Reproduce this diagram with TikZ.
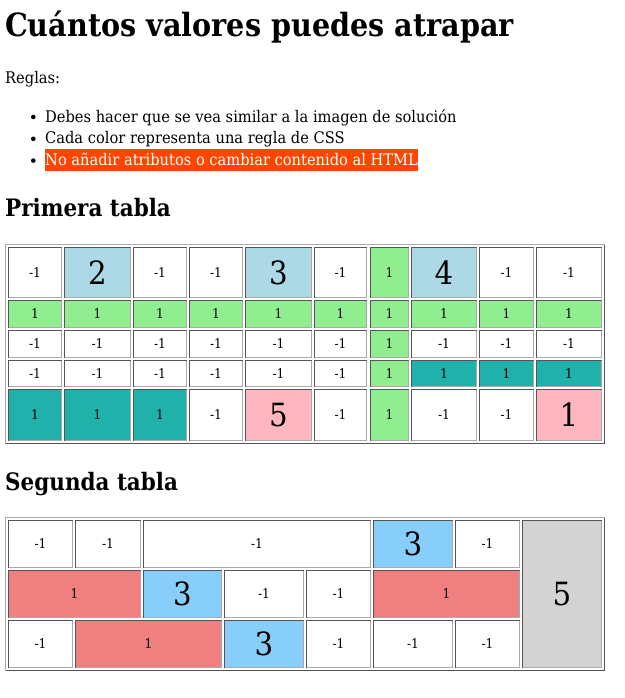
\documentclass[tikz,border=0pt]{standalone}
\usepackage{fontspec}
\setmainfont{DejaVu Serif}[FakeStretch=0.915]
\newfontfamily\negrita{DejaVu Serif}[FakeStretch=0.895]

\definecolor{celeste}{HTML}{ADD8E6}
\definecolor{verde}{HTML}{90EE90}
\definecolor{turquesa}{HTML}{20B2AA}
\definecolor{rosa}{HTML}{FFB6C1}
\definecolor{coral}{HTML}{F08080}
\definecolor{cielo}{HTML}{87CEFA}
\definecolor{gris}{HTML}{D3D3D3}
\definecolor{naranja}{HTML}{FF4500}
\definecolor{bordeoscuro}{HTML}{555555}
\definecolor{bordeclaro}{HTML}{AAAAAA}

\newcommand{\chica}{\fontsize{13.33}{16}\selectfont}
\newcommand{\grande}{\fontsize{32}{38}\selectfont}
\newcommand{\cuerpo}{\fontsize{16}{20}\selectfont}
\newcommand{\titulo}{\negrita\fontsize{32}{38}\selectfont\bfseries}
\newcommand{\subtitulo}{\negrita\fontsize{24}{28}\selectfont\bfseries}

\tikzset{
  celda/.style={inner sep=0pt, outer sep=0pt, anchor=north west, font=\chica},
  grande/.style={font=\grande},
  texto/.style={inner sep=0pt, anchor=base west, font=\cuerpo},
  oscuro/.style={draw=bordeoscuro, line width=1pt},
  claro/.style={draw=bordeclaro, line width=1pt}
}

% celda: nombre, x1, y1, x2, y2, relleno, estilo, texto
\newcommand{\celda}[8]{%
  \node[celda, #7, fill=#6, minimum width={(#4-#2)*1pt}, minimum height={(#5-#3)*1pt}] (#1) at (#2,#3) {#8};
  \draw[oscuro] ([shift={(0.5,-0.5)}]#1.south west) |- ([shift={(-0.5,0.5)}]#1.north east);
  \draw[claro] ([shift={(-0.5,0.5)}]#1.north east) |- ([shift={(0.5,-0.5)}]#1.south west);
}
% marco de la tabla: nombre, x1, y1, x2, y2
\newcommand{\marco}[5]{%
  \node[celda, minimum width={(#4-#2)*1pt}, minimum height={(#5-#3)*1pt}] (#1) at (#2,#3) {};
  \draw[claro] ([shift={(0.5,-0.5)}]#1.south west) |- ([shift={(-0.5,0.5)}]#1.north east);
  \draw[oscuro] ([shift={(-0.5,0.5)}]#1.north east) |- ([shift={(0.5,-0.5)}]#1.south west);
}

\begin{document}
\begin{tikzpicture}[x=1pt, y=-1pt]
  \useasboundingbox[fill=white] (0,0) rectangle (624,698);

  % encabezado
  \node[texto, font=\titulo] (titulo) at (5,37) {Cuántos valores puedes atrapar};
  \node[texto] (reglas) at (5,84) {Reglas:};
  \node[texto] (regla1) at (45,122) {Debes hacer que se vea similar a la imagen de solución};
  \node[texto] (regla2) at (45,143.8) {Cada color representa una regla de CSS};
  \node[texto, fill=naranja, text=white, text height=16.4pt, text depth=5pt] (regla3) at (45,165.6) {No añadir atributos o cambiar contenido al HTML};
  \fill ([xshift=-11.7pt, yshift=5pt]regla1.base west) circle (2.3);
  \fill ([xshift=-11.7pt, yshift=5pt]regla2.base west) circle (2.3);
  \fill ([xshift=-11.7pt, yshift=5pt]regla3.base west) circle (2.3);

  % primera tabla
  \node[texto, font=\subtitulo] (primera) at (5,216) {Primera tabla};
  \marco{tabla1}{5}{244}{605}{444}

  \celda{p1-1}{8}{247}{62}{298}{white}{}{-1}
  \celda{p1-2}{64}{247}{131}{298}{celeste}{grande}{2}
  \celda{p1-3}{133}{247}{187}{298}{white}{}{-1}
  \celda{p1-4}{189}{247}{243}{298}{white}{}{-1}
  \celda{p1-5}{245}{247}{312}{298}{celeste}{grande}{3}
  \celda{p1-6}{314}{247}{367}{298}{white}{}{-1}
  \celda{p1-7}{370}{247}{409}{298}{verde}{}{1}
  \celda{p1-8}{411}{247}{477}{298}{celeste}{grande}{4}
  \celda{p1-9}{479}{247}{534}{298}{white}{}{-1}
  \celda{p1-10}{536}{247}{602}{298}{white}{}{-1}

  \celda{p2-1}{8}{300}{62}{328}{verde}{}{1}
  \celda{p2-2}{64}{300}{131}{328}{verde}{}{1}
  \celda{p2-3}{133}{300}{187}{328}{verde}{}{1}
  \celda{p2-4}{189}{300}{243}{328}{verde}{}{1}
  \celda{p2-5}{245}{300}{312}{328}{verde}{}{1}
  \celda{p2-6}{314}{300}{367}{328}{verde}{}{1}
  \celda{p2-7}{370}{300}{409}{328}{verde}{}{1}
  \celda{p2-8}{411}{300}{477}{328}{verde}{}{1}
  \celda{p2-9}{479}{300}{534}{328}{verde}{}{1}
  \celda{p2-10}{536}{300}{602}{328}{verde}{}{1}

  \celda{p3-1}{8}{330}{62}{358}{white}{}{-1}
  \celda{p3-2}{64}{330}{131}{358}{white}{}{-1}
  \celda{p3-3}{133}{330}{187}{358}{white}{}{-1}
  \celda{p3-4}{189}{330}{243}{358}{white}{}{-1}
  \celda{p3-5}{245}{330}{312}{358}{white}{}{-1}
  \celda{p3-6}{314}{330}{367}{358}{white}{}{-1}
  \celda{p3-7}{370}{330}{409}{358}{verde}{}{1}
  \celda{p3-8}{411}{330}{477}{358}{white}{}{-1}
  \celda{p3-9}{479}{330}{534}{358}{white}{}{-1}
  \celda{p3-10}{536}{330}{602}{358}{white}{}{-1}

  \celda{p4-1}{8}{360}{62}{387}{white}{}{-1}
  \celda{p4-2}{64}{360}{131}{387}{white}{}{-1}
  \celda{p4-3}{133}{360}{187}{387}{white}{}{-1}
  \celda{p4-4}{189}{360}{243}{387}{white}{}{-1}
  \celda{p4-5}{245}{360}{312}{387}{white}{}{-1}
  \celda{p4-6}{314}{360}{367}{387}{white}{}{-1}
  \celda{p4-7}{370}{360}{409}{387}{verde}{}{1}
  \celda{p4-8}{411}{360}{477}{387}{turquesa}{}{1}
  \celda{p4-9}{479}{360}{534}{387}{turquesa}{}{1}
  \celda{p4-10}{536}{360}{602}{387}{turquesa}{}{1}

  \celda{p5-1}{8}{389}{62}{441}{turquesa}{}{1}
  \celda{p5-2}{64}{389}{131}{441}{turquesa}{}{1}
  \celda{p5-3}{133}{389}{187}{441}{turquesa}{}{1}
  \celda{p5-4}{189}{389}{243}{441}{white}{}{-1}
  \celda{p5-5}{245}{389}{312}{441}{rosa}{grande}{5}
  \celda{p5-6}{314}{389}{367}{441}{white}{}{-1}
  \celda{p5-7}{370}{389}{409}{441}{verde}{}{1}
  \celda{p5-8}{411}{389}{477}{441}{white}{}{-1}
  \celda{p5-9}{479}{389}{534}{441}{white}{}{-1}
  \celda{p5-10}{536}{389}{602}{441}{rosa}{grande}{1}

  % segunda tabla
  \node[texto, font=\subtitulo] (segunda) at (5,490) {Segunda tabla};
  \marco{tabla2}{5}{517}{605}{671}

  \celda{s1-1}{8}{520}{73}{568}{white}{}{-1}
  \celda{s1-2}{75}{520}{141}{568}{white}{}{-1}
  \celda{s1-3}{143}{520}{371}{568}{white}{}{-1}
  \celda{s1-4}{373}{520}{453}{568}{cielo}{grande}{3}
  \celda{s1-5}{455}{520}{520}{568}{white}{}{-1}
  \celda{s1-6}{522}{520}{602}{668}{gris}{grande}{5}

  \celda{s2-1}{8}{570}{141}{618}{coral}{}{1}
  \celda{s2-2}{143}{570}{222}{618}{cielo}{grande}{3}
  \celda{s2-3}{224}{570}{304}{618}{white}{}{-1}
  \celda{s2-4}{306}{570}{371}{618}{white}{}{-1}
  \celda{s2-5}{373}{570}{520}{618}{coral}{}{1}

  \celda{s3-1}{8}{620}{73}{668}{white}{}{-1}
  \celda{s3-2}{75}{620}{222}{668}{coral}{}{1}
  \celda{s3-3}{224}{620}{304}{668}{cielo}{grande}{3}
  \celda{s3-4}{306}{620}{371}{668}{white}{}{-1}
  \celda{s3-5}{373}{620}{453}{668}{white}{}{-1}
  \celda{s3-6}{455}{620}{520}{668}{white}{}{-1}
\end{tikzpicture}
\end{document}
